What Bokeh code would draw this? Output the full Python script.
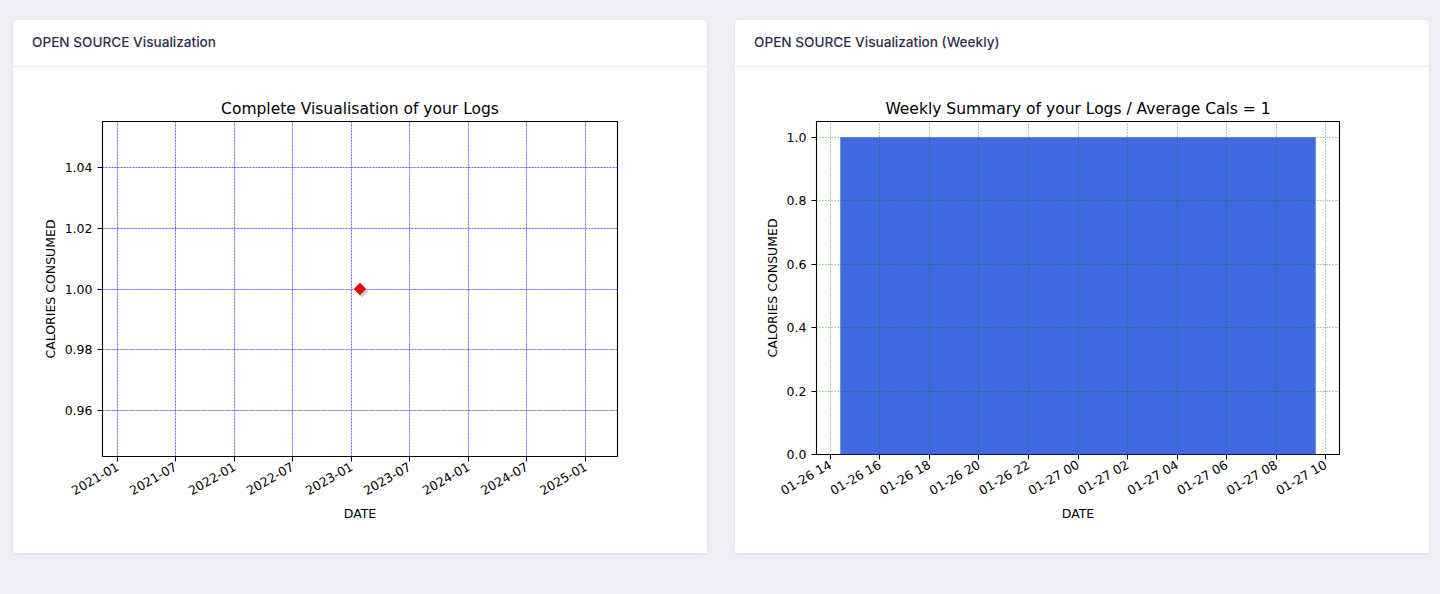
import pandas as pd
from math import pi
from bokeh.plotting import figure
from bokeh.layouts import column, row
from bokeh.models import (Div, FixedTicker, DatetimeTickFormatter, NumeralTickFormatter,
                          Range1d, ColumnDataSource)
from bokeh.transform import dodge
from bokeh.embed import file_html
from bokeh.resources import INLINE

# ---------------- data ----------------
log_dates = ["2023-01-27"]
log_calories = [1]

weekly_dates = ["2023-01-27 00:00"]
weekly_calories = [1]

left_xtick_labels = ["2021-01", "2021-07", "2022-01", "2022-07", "2023-01",
                     "2023-07", "2024-01", "2024-07", "2025-01"]
left_yticks = [0.96, 0.98, 1.00, 1.02, 1.04]
right_xtick_labels = ["2023-01-26 14:00", "2023-01-26 16:00", "2023-01-26 18:00",
                      "2023-01-26 20:00", "2023-01-26 22:00", "2023-01-27 00:00",
                      "2023-01-27 02:00", "2023-01-27 04:00", "2023-01-27 06:00",
                      "2023-01-27 08:00", "2023-01-27 10:00"]
right_yticks = [0.0, 0.2, 0.4, 0.6, 0.8, 1.0]

header_left = "OPEN SOURCE Visualization"
header_right = "OPEN SOURCE Visualization (Weekly)"
title_left = "Complete Visualisation of your Logs"
avg_cals = round(sum(weekly_calories) / len(weekly_calories))
title_right = f"Weekly Summary of your Logs / Average Cals = {avg_cals}"

# ---------------- helpers ----------------
def ms(s):
    return pd.Timestamp(s).value / 1e6

DAY = 86400000.0
FONT = "DejaVu Sans"
CARD_W, CARD_H, HEAD_H = 694, 533, 47


def style_fig(p, title):
    p.title.text = title
    p.title.align = "center"
    p.title.text_font = FONT
    p.title.text_font_size = "15.5px"
    p.title.text_font_style = "normal"
    p.title.text_color = "#000000"
    p.title.standoff = 7
    p.outline_line_color = "#000000"
    p.outline_line_width = 1.1
    p.background_fill_color = "white"
    p.border_fill_color = "white"
    for ax in (p.xaxis[0], p.yaxis[0]):
        ax.axis_line_color = None
        ax.major_tick_line_color = "#000000"
        ax.major_tick_line_width = 1
        ax.major_tick_out = 5
        ax.major_tick_in = 0
        ax.minor_tick_line_color = None
        ax.major_label_text_font = FONT
        ax.major_label_text_font_size = "12.5px"
        ax.major_label_text_color = "#000000"
        ax.axis_label_text_font = FONT
        ax.axis_label_text_font_size = "12.5px"
        ax.axis_label_text_font_style = "normal"
        ax.axis_label_text_color = "#000000"
    p.xaxis[0].axis_label = "DATE"
    p.yaxis[0].axis_label = "CALORIES CONSUMED"
    p.xaxis[0].major_label_orientation = pi / 6
    p.xaxis[0].major_label_standoff = 4
    p.xaxis[0].axis_label_standoff = 4
    p.yaxis[0].major_label_standoff = 5
    p.yaxis[0].axis_label_standoff = 4


def date_fmt(fmt):
    return DatetimeTickFormatter(microseconds=fmt, milliseconds=fmt, seconds=fmt,
                                 minsec=fmt, minutes=fmt, hourmin=fmt, hours=fmt,
                                 days=fmt, months=fmt, years=fmt)


def header(text):
    return Div(text=(f'<div style="width:{CARD_W}px;height:{HEAD_H}px;line-height:{HEAD_H - 3}px;'
                     f'padding-left:19px;box-sizing:border-box;font-family:Inter,sans-serif;'
                     f'font-size:13.6px;font-weight:500;color:#2f2f4c;'
                     f'border-bottom:1px solid #ebebf0;">{text}</div>'),
               width=CARD_W, height=HEAD_H, margin=(0, 0, 0, 0))


card_style = {"background-color": "#ffffff", "border-radius": "4px",
              "box-shadow": "0 1px 3px rgba(40,40,80,0.10)"}

# ---------------- left chart ----------------
c_left = ms(log_dates[0])
half = 2 * 365.25 * DAY * 1.1
y_lo, y_hi = 1 - 0.05 * 1.1, 1 + 0.05 * 1.1

src_l = ColumnDataSource(dict(x=[ms(d) for d in log_dates], y=log_calories))

p1 = figure(width=CARD_W, height=CARD_H - HEAD_H, x_axis_type="datetime",
            x_range=Range1d(c_left - half, c_left + half), y_range=Range1d(y_lo, y_hi),
            output_backend="svg", toolbar_location=None,
            min_border_left=89, min_border_right=90, min_border_top=54, min_border_bottom=97)
style_fig(p1, title_left)
p1.xaxis[0].ticker = FixedTicker(ticks=[ms(t + "-01") for t in left_xtick_labels])
p1.xaxis[0].formatter = date_fmt("%Y-%m")
p1.yaxis[0].ticker = FixedTicker(ticks=left_yticks)
p1.yaxis[0].formatter = NumeralTickFormatter(format="0.00")
for g in (p1.xgrid[0], p1.ygrid[0]):
    g.grid_line_color = "#0000ff"
    g.grid_line_width = 0.7
    g.grid_line_dash = "2 1"
    g.grid_line_alpha = 0.85

# soft shadow under the marker
p1.scatter(x=dodge("x", 6.5 * DAY, range=p1.x_range), y=dodge("y", -0.0008, range=p1.y_range),
           source=src_l, marker="square", angle=pi / 4, size=8.5,
           fill_color="#d0d0d0", line_color=None)
p1.scatter(x="x", y="y", source=src_l, marker="square", angle=pi / 4, size=8.5,
           fill_color="#ee0000", line_color="#ee0000", line_width=0.5)

# ---------------- right chart ----------------
bar_w = 0.8 * DAY
c_right = ms(weekly_dates[0])
pad = bar_w / 2 * 1.1
src_r = ColumnDataSource(dict(x=[ms(d) for d in weekly_dates], top=weekly_calories))

p2 = figure(width=CARD_W, height=CARD_H - HEAD_H, x_axis_type="datetime",
            x_range=Range1d(c_right - pad, c_right + pad), y_range=Range1d(0, 1.05),
            output_backend="svg", toolbar_location=None,
            min_border_left=81, min_border_right=90, min_border_top=54, min_border_bottom=99)
style_fig(p2, title_right)
p2.xaxis[0].ticker = FixedTicker(ticks=[ms(t) for t in right_xtick_labels])
p2.xaxis[0].formatter = date_fmt("%m-%d %H")
p2.xaxis[0].axis_label_standoff = -2
p2.yaxis[0].ticker = FixedTicker(ticks=right_yticks)
p2.yaxis[0].formatter = NumeralTickFormatter(format="0.0")
p2.yaxis[0].axis_label_standoff = 4
for g in (p2.xgrid[0], p2.ygrid[0]):
    g.grid_line_color = "#008000"
    g.grid_line_width = 0.8
    g.grid_line_dash = "1 2"
    g.grid_line_alpha = 0.9
    g.level = "annotation"

p2.vbar(x="x", top="top", bottom=0, width=bar_w, source=src_r,
        fill_color="#4169e1", line_color=None)

# ---------------- layout ----------------
card_l = column(header(header_left), p1, width=CARD_W, height=CARD_H,
                styles=card_style, margin=(20, 0, 0, 13))
card_r = column(header(header_right), p2, width=CARD_W, height=CARD_H,
                styles=card_style, margin=(20, 0, 0, 28))
page = row(card_l, card_r, width=1440, height=594,
           styles={"background-color": "#eeeef6"})

open("out.html", "w").write(file_html(page, INLINE))
